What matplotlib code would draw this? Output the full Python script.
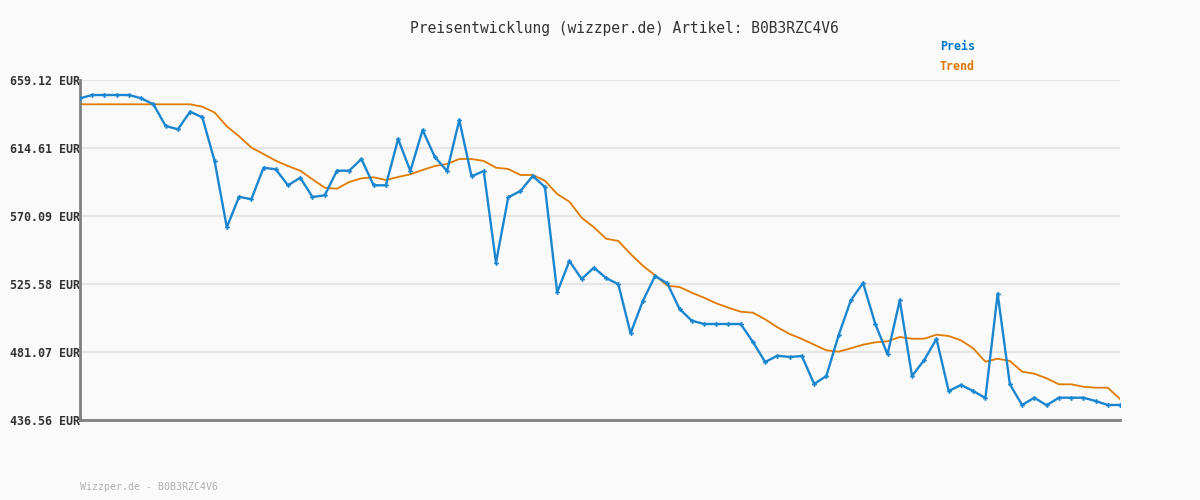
import matplotlib
matplotlib.use("Agg")
import matplotlib.pyplot as plt
import numpy as np

# Werte (EUR)
preis = [
    647.14, 649.30, 649.30, 649.30, 649.30, 647.14, 643.21, 629.01, 626.85, 638.37,
    634.70, 606.10, 562.70, 582.73, 581.03, 601.71, 600.66, 590.19, 595.17, 582.53,
    583.65, 599.75, 599.75, 607.41, 590.19, 590.19, 620.50, 599.55, 626.39, 608.72,
    599.55, 632.94, 596.08, 599.55, 539.53, 582.34, 586.46, 596.28, 589.08, 520.15,
    540.64, 528.86, 536.25, 529.51, 525.39, 493.31, 514.45, 530.82, 526.04, 509.22,
    501.56, 499.40, 499.40, 499.40, 499.40, 487.61, 474.52, 478.65, 477.80, 478.45,
    460.12, 465.36, 492.00, 514.91, 526.24, 499.40, 479.56, 514.91, 465.36, 475.83,
    489.58, 455.54, 459.47, 455.54, 450.96, 519.23, 459.93, 446.38, 451.15, 446.18,
    451.15, 451.15, 451.15, 448.99, 446.38, 446.38,
]
trend = [
    643.21, 643.21, 643.21, 643.21, 643.21, 643.21, 643.21, 643.21, 643.21, 643.21,
    641.64, 637.85, 628.81, 622.27, 614.93, 610.68, 606.29, 602.82, 599.75, 594.12,
    588.62, 587.97, 592.35, 594.77, 595.43, 593.66, 595.62, 597.39, 600.21, 602.82,
    604.13, 607.41, 607.41, 606.10, 601.71, 600.86, 596.93, 596.93, 593.20, 584.50,
    579.46, 568.98, 562.70, 555.24, 553.73, 545.22, 537.56, 531.28, 524.47, 523.62,
    519.89, 516.61, 512.95, 510.07, 507.45, 506.79, 502.47, 497.24, 492.85, 489.58,
    485.85, 482.18, 481.27, 483.49, 485.85, 487.42, 488.07, 490.89, 489.77, 489.77,
    492.39, 491.54, 488.73, 483.49, 474.72, 476.68, 475.18, 468.17, 466.86, 463.85,
    459.93, 459.93, 458.35, 457.70, 457.70, 450.30,
]
y_ticks = [436.56, 481.07, 525.58, 570.09, 614.61, 659.12]
artikel = "B0B3RZC4V6"

bg = "#fafafa"
blau = "#1a86d0"
orange = "#e07b00"

plt.rcParams["font.family"] = ["DejaVu Sans Mono"]

fig = plt.figure(figsize=(12, 5), dpi=100, facecolor=bg)
ax = fig.add_axes([80 / 1200, 80 / 500, 1040 / 1200, 340 / 500], facecolor=bg)

x = np.arange(len(preis))

# Gitter
for v in y_ticks:
    ax.axhline(v, color="#e6e6e6", lw=1.6, zorder=0)

ax.plot(x, trend, color=orange, lw=1.3, zorder=2)
ax.plot(x, preis, color=blau, lw=1.7, marker="P", markersize=3.5,
        markeredgewidth=0, zorder=3)

ax.set_xlim(0, len(preis) - 1)
ax.set_ylim(y_ticks[0], y_ticks[-1])
ax.set_xticks([])
ax.set_yticks(y_ticks)
ax.set_yticklabels([f"{v:.2f} EUR" for v in y_ticks], fontsize=8.4,
                   fontweight="bold", color="#333333")
ax.tick_params(axis="y", length=0, pad=0)

for s in ["top", "right"]:
    ax.spines[s].set_visible(False)
for s in ["left", "bottom"]:
    ax.spines[s].set_color("#808080")
    ax.spines[s].set_linewidth(2)

fig.text(624 / 1200, 1 - 28 / 500, f"Preisentwicklung (wizzper.de) Artikel: {artikel}",
         ha="center", va="center", fontsize=10.5, color="#333333")
fig.text(940 / 1200, 1 - 47 / 500, "Preis", ha="left", va="center",
         fontsize=8.4, fontweight="bold", color="#0077cc")
fig.text(940 / 1200, 1 - 67 / 500, "Trend", ha="left", va="center",
         fontsize=8.4, fontweight="bold", color="#dd7700")
fig.text(80 / 1200, 1 - 487 / 500, f"Wizzper.de - {artikel}", ha="left",
         va="center", fontsize=7.2, color="#b0b0b0")

fig.savefig("out.png", dpi=100, facecolor=bg)
